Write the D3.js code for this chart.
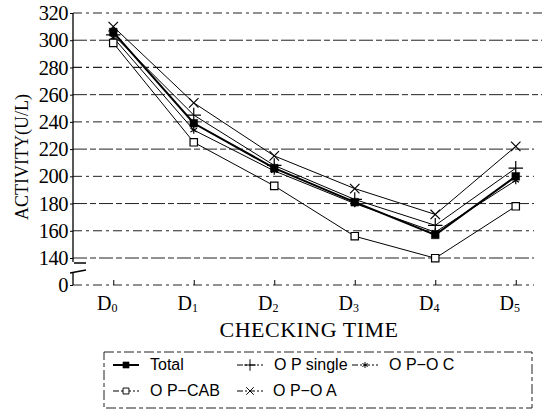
<!DOCTYPE html>
<html>
<head>
<meta charset="utf-8">
<script src="https://cdn.jsdelivr.net/npm/d3@7"></script>
<style>
  body { margin: 0; background: #fff; }
  svg { display: block; }
</style>
</head>
<body>
<svg id="svg" width="556" height="415"></svg>
<script>
// checking times D0..D5
var categories = ["0", "1", "2", "3", "4", "5"];
var yTicks = [0, 140, 160, 180, 200, 220, 240, 260, 280, 300, 320];

var total = [306, 239, 206, 181, 157, 200];
var opSingle = [304, 245, 208, 183, 164, 206];
var opOC = [302, 234, 204, 180, 159, 197];
var opCAB = [298, 225, 193, 156, 139, 178];
var opOA = [310, 254, 215, 191, 172, 222];

var seriesNames = ["Total", "O P single", "O P\u2212O C", "O P\u2212CAB", "O P\u2212O A"];
var series = [total, opSingle, opOC, opCAB, opOA];

var svg = d3.select("#svg");
var serif = "'Liberation Serif', 'DejaVu Serif', serif";
var sans = "'Liberation Sans', Arial, sans-serif";

var xScale = d3.scalePoint().domain(categories).range([73, 556]).padding(0.5);
// axis is broken between 0 and 140
var yScale = d3.scaleLinear().domain([0, 140, 320]).range([285, 258, 13]);

// gridlines
var grid = svg.append("g");
grid.selectAll("line")
  .data(yTicks)
  .enter()
  .append("line")
  .attr("x1", 73)
  .attr("x2", function (d) { return d >= 240 ? 542 : 534; })
  .attr("y1", function (d) { return yScale(d); })
  .attr("y2", function (d) { return yScale(d); })
  .attr("stroke", "#222")
  .attr("stroke-width", function (d) { return d == 280 ? 1.3 : 1; })
  .attr("stroke-dasharray", function (d, i) {
    return i % 2 ? "14,3,6,3" : "9,4,3,4";
  });

// y axis
var yAxis = svg.append("g")
  .attr("transform", "translate(73,0)")
  .call(d3.axisLeft(yScale).tickValues(yTicks).tickSize(3).tickPadding(2));
yAxis.select(".domain").remove();
yAxis.selectAll("text")
  .attr("font-family", serif)
  .attr("font-size", 20.5)
  .attr("letter-spacing", -0.5)
  .attr("fill", "#000");
yAxis.selectAll("line").attr("stroke", "#000");

// axis line with break
svg.append("path")
  .attr("d", "M73," + yScale(320) + "V" + (yScale(140) + 4) + "M73," + (yScale(0) - 13) + "V" + yScale(0))
  .attr("stroke", "#000")
  .attr("stroke-width", 1.3)
  .attr("fill", "none");
svg.append("path")
  .attr("d", "M74," + (yScale(140) + 5) + "H86M70," + (yScale(0) - 12) + "L86," + (yScale(0) - 15))
  .attr("stroke", "#000")
  .attr("stroke-width", 1.5)
  .attr("fill", "none");

// x axis ticks
var xAxis = svg.append("g")
  .attr("transform", "translate(0," + yScale(0) + ")")
  .call(d3.axisTop(xScale).tickSize(5).tickFormat(""));
xAxis.select(".domain").remove();
xAxis.selectAll("line").attr("stroke", "#000");

var xLabels = svg.append("g")
  .selectAll("text")
  .data(categories)
  .enter()
  .append("text")
  .attr("x", function (d) { return xScale(d) - 6; })
  .attr("y", 310)
  .attr("text-anchor", "middle")
  .attr("font-family", serif)
  .attr("font-size", 20)
  .text("D");
xLabels.append("tspan")
  .attr("font-size", 12)
  .attr("dy", 2)
  .text(function (d) { return d; });

// axis titles
svg.append("text")
  .attr("x", 309)
  .attr("y", 337)
  .attr("text-anchor", "middle")
  .attr("font-family", serif)
  .attr("font-size", 22)
  .attr("letter-spacing", 0.5)
  .text("CHECKING TIME");

svg.append("text")
  .attr("transform", "translate(28,157) rotate(-90)")
  .attr("text-anchor", "middle")
  .attr("font-family", serif)
  .attr("font-size", 18)
  .text("ACTIVITY(U/L)");

// symbols
var symbolTypes = [d3.symbolSquare, d3.symbolPlus, d3.symbolAsterisk, d3.symbolSquare, d3.symbolX];
var symbolSizes = [60, 70, 40, 55, 60];
var filled = [true, false, false, false, false];

function drawSymbol(g, i) {
  g.append("path")
    .attr("d", d3.symbol().type(symbolTypes[i]).size(symbolSizes[i]))
    .attr("fill", filled[i] ? "#000" : i == 3 ? "#fff" : "none")
    .attr("stroke", "#000")
    .attr("stroke-width", filled[i] ? 0.5 : 1.2);
}

var line = d3.line()
  .x(function (d, i) { return xScale(categories[i]); })
  .y(function (d) { return yScale(d); });

var plot = svg.append("g");
series.forEach(function (s, i) {
  plot.append("path")
    .datum(s)
    .attr("d", line)
    .attr("fill", "none")
    .attr("stroke", "#000")
    .attr("stroke-width", i == 0 ? 2 : 1);
});
series.forEach(function (s, i) {
  plot.selectAll(".pt" + i)
    .data(s)
    .enter()
    .append("g")
    .attr("transform", function (d, j) {
      return "translate(" + xScale(categories[j]) + "," + yScale(d) + ")";
    })
    .each(function () { drawSymbol(d3.select(this), i); });
});

// legend
svg.append("rect")
  .attr("x", 104)
  .attr("y", 352)
  .attr("width", 428)
  .attr("height", 56)
  .attr("fill", "none")
  .attr("stroke", "#222")
  .attr("stroke-dasharray", "10,3,4,3");

var legendPos = [[113, 365], [237, 365], [352, 365], [113, 391], [237, 391]];
var legend = svg.append("g");
seriesNames.forEach(function (name, i) {
  var g = legend.append("g")
    .attr("transform", "translate(" + legendPos[i][0] + "," + legendPos[i][1] + ")");
  g.append("line")
    .attr("x1", 0)
    .attr("x2", 26)
    .attr("stroke", "#000")
    .attr("stroke-width", i == 0 ? 2 : 1)
    .attr("stroke-dasharray", i == 0 ? null : "6,2,2,2");
  var s = g.append("g").attr("transform", "translate(13,0) scale(0.8)");
  drawSymbol(s, i);
  g.append("text")
    .attr("x", i == 4 ? 36 : 37)
    .attr("y", 5)
    .attr("font-family", sans)
    .attr("font-size", 16)
    .text(name);
});
</script>
</body>
</html>
